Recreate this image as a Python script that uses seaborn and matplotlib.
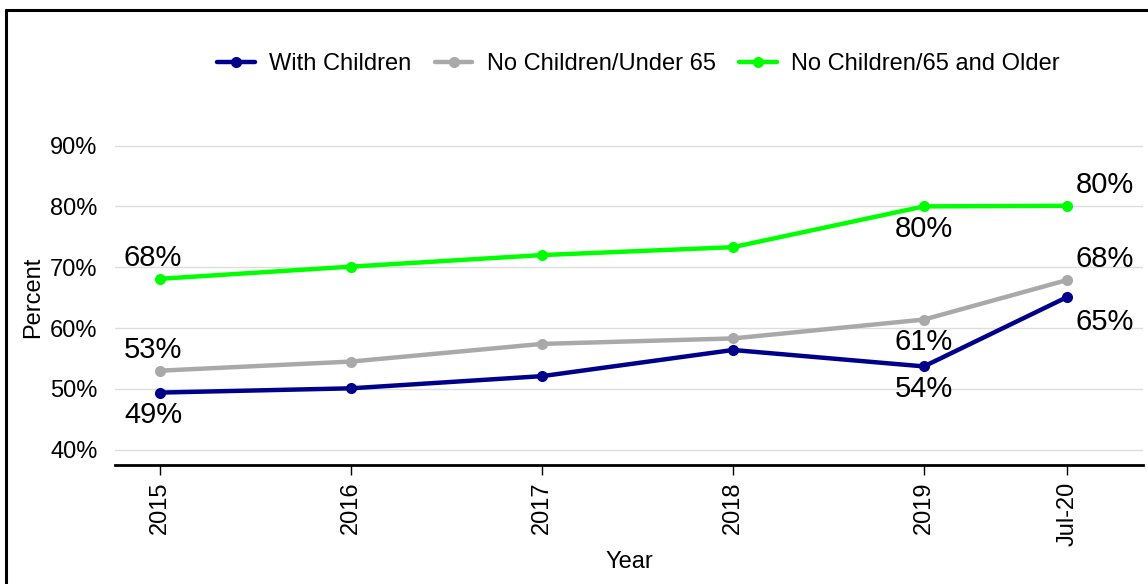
import pandas as pd
import numpy as np
import matplotlib
matplotlib.use("Agg")
import matplotlib.pyplot as plt
from matplotlib.lines import Line2D
import seaborn as sns

# data
x_pos = [2015, 2016, 2017, 2018, 2019, 2019.75]
x_labels = ["2015", "2016", "2017", "2018", "2019", "Jul-20"]
with_children = [49.4, 50.1, 52.1, 56.4, 53.7, 65.1]
no_children_under65 = [53.0, 54.5, 57.4, 58.3, 61.4, 67.9]
no_children_65plus = [68.1, 70.1, 72.0, 73.3, 80.0, 80.1]

series_names = ["With Children", "No Children/Under 65", "No Children/65 and Older"]
colors = ["#00008B", "#A9A9A9", "#00FF00"]

df = pd.DataFrame({
    "x": x_pos * 3,
    "value": with_children + no_children_under65 + no_children_65plus,
    "group": [series_names[0]] * 6 + [series_names[1]] * 6 + [series_names[2]] * 6,
})

sns.set_style("white")
plt.rcParams["font.family"] = ["Liberation Sans", "DejaVu Sans"]
plt.rcParams["text.color"] = "black"
plt.rcParams["axes.labelcolor"] = "black"
plt.rcParams["xtick.color"] = "black"
plt.rcParams["ytick.color"] = "black"

fig = plt.figure(figsize=(11.48, 5.84), dpi=100)
ax = fig.add_axes([0.1002, 0.2038, 0.8954, 0.573])

sns.lineplot(data=df, x="x", y="value", hue="group", palette=colors,
             marker="o", markersize=8, markeredgewidth=0, linewidth=3.2,
             legend=False, ax=ax)

ax.set_xlim(2014.764, 2020.147)
ax.set_ylim(37.5, 92.5)
ax.set_yticks([40, 50, 60, 70, 80, 90])
ax.set_yticklabels(["40%", "50%", "60%", "70%", "80%", "90%"])
ax.set_xticks(x_pos)
ax.set_xticklabels(x_labels, rotation=90)
ax.grid(axis="y", color="#DDDDDD", linewidth=1)
ax.grid(axis="x", visible=False)
for s in ["top", "right", "left"]:
    ax.spines[s].set_visible(False)
ax.spines["bottom"].set_color("black")
ax.spines["bottom"].set_linewidth(2)
ax.tick_params(axis="x", bottom=True, length=7, width=1, color="black",
               labelsize=17, pad=5)
ax.tick_params(axis="y", left=False, labelsize=17, pad=9)
ax.set_xlabel("Year", fontsize=17, labelpad=4)
ax.set_ylabel("Percent", fontsize=17, labelpad=4)

# value labels
label_pos = {
    0: [(0, "below_l"), (1, "above_l"), (2, "above_l")],
    4: [(0, "below"), (1, "below"), (2, "below")],
    5: [(0, "below_r"), (1, "above_r"), (2, "above_r")],
}
series_vals = [with_children, no_children_under65, no_children_65plus]
offsets = {"above_l": (-5, 15), "below_l": (-5, -16), "below": (0, -16),
           "above_r": (27, 15), "below_r": (27, -18)}
for i, items in label_pos.items():
    for si, where in items:
        v = series_vals[si][i]
        ax.annotate(f"{v:.0f}%", (x_pos[i], v), xytext=offsets[where],
                    textcoords="offset points", ha="center", va="center",
                    fontsize=21)

handles = [Line2D([0], [0], color=c, linewidth=3.2, marker="o", markersize=8,
                  markeredgewidth=0) for c in colors]
fig.legend(handles, series_names, loc="center", bbox_to_anchor=(0.556, 0.890),
           ncol=3, frameon=False, fontsize=17, handlelength=1.6,
           columnspacing=1.0, handletextpad=0.6)

# frame lines on the figure (top and left only)
fig.add_artist(Line2D([0.0055, 1.0], [0.9837, 0.9837], color="black", linewidth=2.2,
                      transform=fig.transFigure))
fig.add_artist(Line2D([0.0055, 0.0055], [0.0, 0.9837], color="black", linewidth=2.2,
                      transform=fig.transFigure))

fig.savefig("out.png", dpi=100)
